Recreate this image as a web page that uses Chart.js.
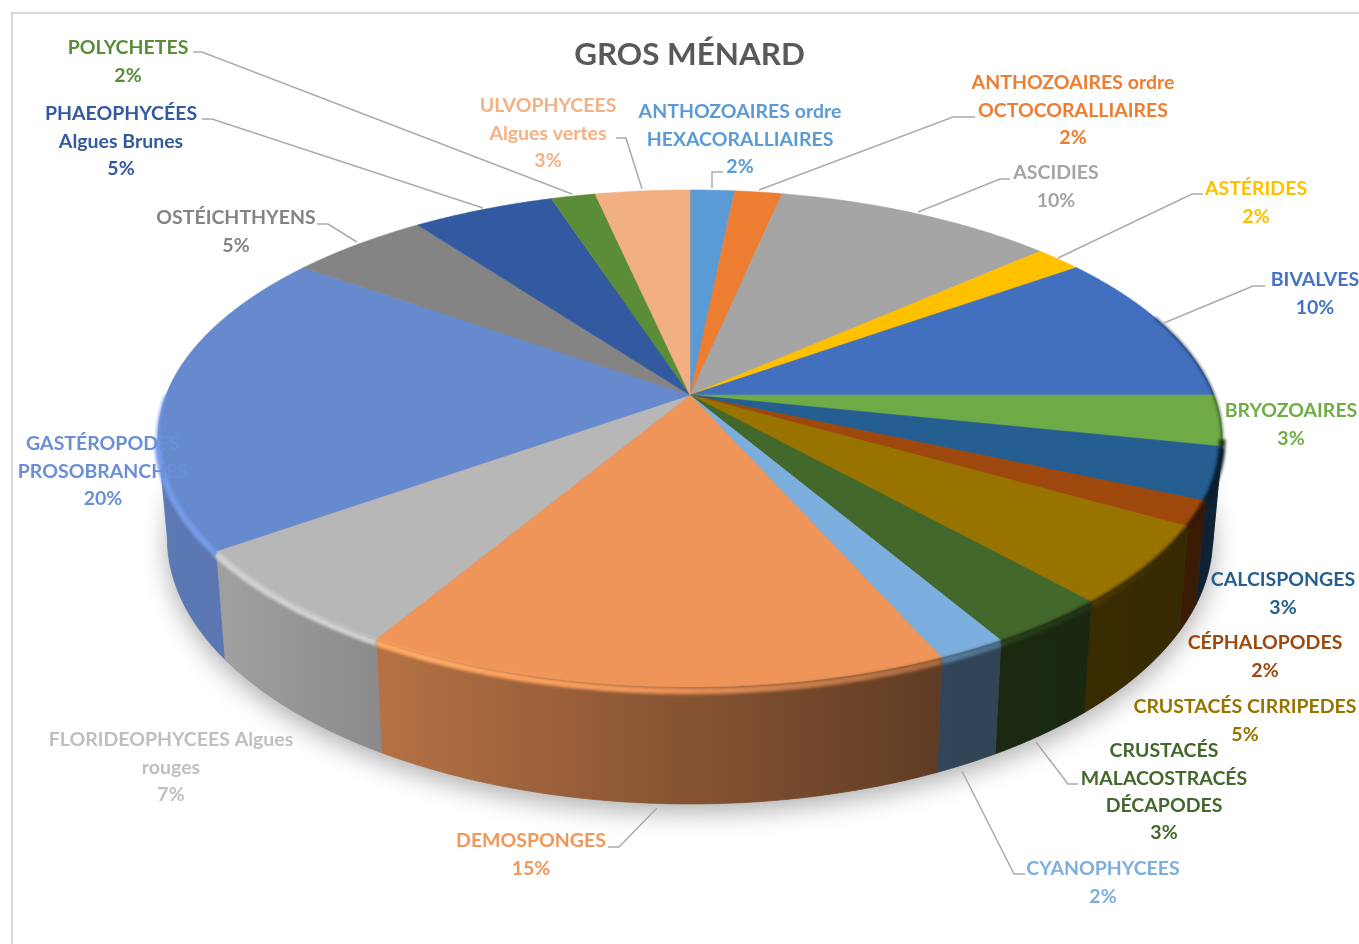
<!DOCTYPE html>
<html lang="fr">
<head>
<meta charset="utf-8">
<title>GROS MÉNARD</title>
<script src="https://cdn.jsdelivr.net/npm/chart.js@4"></script>
<style>
  html, body { margin: 0; padding: 0; background: #fff; overflow: hidden; }
  canvas { display: block; }
</style>
</head>
<body>
<canvas id="pie_chart" width="1359" height="944"></canvas>
<script>
const chartTitle = 'GROS MÉNARD';
const categories = [
  'ANTHOZOAIRES ordre\nHEXACORALLIAIRES', 'ANTHOZOAIRES ordre\nOCTOCORALLIAIRES', 'ASCIDIES', 'ASTÉRIDES',
  'BIVALVES', 'BRYOZOAIRES', 'CALCISPONGES', 'CÉPHALOPODES', 'CRUSTACÉS CIRRIPEDES',
  'CRUSTACÉS\nMALACOSTRACÉS\nDÉCAPODES', 'CYANOPHYCEES', 'DEMOSPONGES', 'FLORIDEOPHYCEES Algues\nrouges',
  'GASTÉROPODES\nPROSOBRANCHES', 'OSTÉICHTHYENS', 'PHAEOPHYCÉES\nAlgues Brunes', 'POLYCHETES', 'ULVOPHYCEES\nAlgues vertes',
];
const shares = [1.6, 1.7, 10.1, 1.7, 9.9, 3.3, 3.4, 1.6, 5.1, 3.2, 1.8, 15.1, 6.6, 19.8, 5.0, 5.1, 1.6, 3.4];
const colors = [
  '#5B9BD5', '#ED7D31', '#A5A5A5', '#FFC000', '#4270BE', '#6EAA45', '#255E91', '#9E480E', '#997300',
  '#43682B', '#7CAFDD', '#EF9559', '#B7B7B7', '#6789CD', '#848484', '#335AA1', '#5B8C38', '#F1AF82',
];
const textColors = [
  '#5B9BD5', '#ED7D31', '#A5A5A5', '#FFC000', '#4472C4', '#70AD47', '#255E91', '#9E480E', '#997300',
  '#43682B', '#7CAFDD', '#F1975A', '#BFBFBF', '#6A8FD4', '#848484', '#335AA1', '#5B8C38', '#F4B183',
];

// where each label sits: centre x, y of the first line
const labelSpots = [
  [740, 111], [1073, 82], [1056, 172], [1256, 188], [1315, 279], [1291, 410], [1283, 579], [1265, 642], [1245, 706],
  [1164, 750], [1103, 868], [531, 840], [171, 739], [103, 443], [236, 217], [121, 113], [128, 47], [548, 105],
];
// leader lines from label to slice, null where the label has none
const leaders = [
  [[723, 172], [712, 172], [712, 188]], [[975, 117], [953, 117], [759, 190]], [[1010, 179], [1000, 179], [918, 212]],
  [[1203, 194], [1192, 194], [1058, 258]], [[1265, 286], [1253, 286], [1164, 323]], null, null, null, null,
  [[1078, 784], [1068, 784], [1036, 742]], [[1025, 874], [1014, 874], [962, 771]], [[608, 847], [619, 847], [657, 808]],
  null, null, [[317, 224], [328, 224], [357, 242]], [[202, 119], [212, 119], [483, 208]],
  [[193, 52], [202, 52], [572, 194]], [[616, 138], [626, 138], [642, 189]],
];

// tilted disc: perspective projection of the angles Chart.js computes
const disc = {cx: 690, cy: 395, rx: 524, ry: 240.9, persp: 0.175, depth: 96.5, shrink: 0.982, bevel: 4};
const labelFont = 'bold 19.5px Lato';
const lineGap = 27.3;
const labelDrop = 1;

function topPoint(a) {
  const s = 1 / (1 - disc.persp * Math.sin(a));
  return [disc.cx + disc.rx * Math.cos(a) * s, disc.cy + disc.ry * Math.sin(a) * s];
}

function bottomPoint(a) {
  const p = topPoint(a);
  const s = 1 / (1 - disc.persp * Math.sin(a));
  return [disc.cx + (p[0] - disc.cx) * disc.shrink, p[1] + disc.depth * s];
}

function rimPoint(a) {
  const p = topPoint(a);
  return [p[0], p[1] + disc.bevel * Math.max(Math.sin(a), 0)];
}

function arcPoints(fn, a0, a1) {
  const steps = Math.max(2, Math.ceil(Math.abs(a1 - a0) / 0.006));
  const pts = [];
  for (let i = 0; i <= steps; i++) {
    pts.push(fn(a0 + (a1 - a0) * i / steps));
  }
  return pts;
}

function tracePath(ctx, pts) {
  pts.forEach((p, i) => (i == 0 ? ctx.moveTo(p[0], p[1]) : ctx.lineTo(p[0], p[1])));
}

function shade(hex, f) {
  const n = parseInt(hex.slice(1), 16);
  const c = [n >> 16, (n >> 8) & 255, n & 255].map((v) => Math.min(255, Math.round(v * f)));
  return `rgb(${c[0]},${c[1]},${c[2]})`;
}

function wallGradient(ctx, color) {
  const g = ctx.createLinearGradient(157, 0, 1221, 0);
  g.addColorStop(0, shade(color, 0.88));
  g.addColorStop(0.07, shade(color, 0.87));
  g.addColorStop(0.22, shade(color, 0.75));
  g.addColorStop(0.73, shade(color, 0.40));
  g.addColorStop(1, shade(color, 0.36));
  return g;
}

function rimGradient(ctx, color) {
  const g = ctx.createLinearGradient(157, 0, 1221, 0);
  g.addColorStop(0, shade(color, 1.14));
  g.addColorStop(0.25, shade(color, 1.14));
  g.addColorStop(0.45, shade(color, 1.02));
  g.addColorStop(0.73, shade(color, 0.72));
  g.addColorStop(1, shade(color, 0.3));
  return g;
}

function rimPass(ctx, arcs, from, to, width) {
  arcs.forEach((arc, i) => {
    const a0 = Math.max(arc.startAngle, from);
    const a1 = Math.min(arc.endAngle, to);
    if (a1 <= a0) return;
    ctx.beginPath();
    tracePath(ctx, arcPoints(rimPoint, a0, a1));
    ctx.strokeStyle = rimGradient(ctx, colors[i]);
    ctx.lineWidth = width;
    ctx.stroke();
  });
}

const pie3d = {
  id: 'pie3d',
  beforeDatasetsDraw(chart) {
    const ctx = chart.ctx;
    const arcs = chart.getDatasetMeta(0).data;
    // walls run between the two points where the rim is widest
    const wallFrom = Math.asin(disc.persp);
    const wallTo = Math.PI - wallFrom;

    // soft shadow under the disc
    ctx.save();
    ctx.shadowColor = 'rgba(0,0,0,0.32)';
    ctx.shadowBlur = 26;
    ctx.shadowOffsetY = 8;
    ctx.fillStyle = '#888';
    ctx.beginPath();
    tracePath(ctx, arcPoints(bottomPoint, -Math.PI / 2, Math.PI * 1.5));
    ctx.closePath();
    ctx.fill();
    ctx.restore();

    arcs.forEach((arc, i) => {
      const a0 = Math.max(arc.startAngle, wallFrom);
      const a1 = Math.min(arc.endAngle, wallTo);
      if (a1 <= a0) return;
      ctx.beginPath();
      tracePath(ctx, arcPoints(topPoint, a0, a1).concat(arcPoints(bottomPoint, a1, a0)));
      ctx.closePath();
      ctx.fillStyle = wallGradient(ctx, colors[i]);
      ctx.strokeStyle = ctx.fillStyle;
      ctx.lineWidth = 0.7;
      ctx.fill();
      ctx.stroke();
    });

    arcs.forEach((arc, i) => {
      ctx.beginPath();
      tracePath(ctx, [[disc.cx, disc.cy]].concat(arcPoints(topPoint, arc.startAngle, arc.endAngle)));
      ctx.closePath();
      ctx.fillStyle = colors[i];
      ctx.strokeStyle = colors[i];
      ctx.lineWidth = 0.6;
      ctx.fill();
      ctx.stroke();
    });

    // bevel along the rim, thin where the wall turns away
    ctx.save();
    ctx.filter = 'blur(1.8px)';
    rimPass(ctx, arcs, wallFrom, wallTo, 6.5);
    rimPass(ctx, arcs, -0.35, wallFrom, 1.6);
    rimPass(ctx, arcs, wallTo, Math.PI, 2.5);
    ctx.restore();
  },
  beforeDatasetDraw() {
    // the arcs are painted above in their tilted form
    return false;
  },
  afterDatasetsDraw(chart) {
    const ctx = chart.ctx;
    ctx.save();
    ctx.strokeStyle = '#D9D9D9';
    ctx.lineWidth = 2.2;
    ctx.strokeRect(12, 13, 1500, 1100);

    ctx.strokeStyle = '#ABABAB';
    ctx.lineWidth = 1.5;
    leaders.forEach((line) => {
      if (!line) return;
      ctx.beginPath();
      tracePath(ctx, line);
      ctx.stroke();
    });

    ctx.font = labelFont;
    ctx.textAlign = 'center';
    ctx.textBaseline = 'middle';
    categories.forEach((name, i) => {
      const lines = name.split('\n').concat(Math.round(shares[i]) + '%');
      ctx.fillStyle = textColors[i];
      lines.forEach((t, k) => ctx.fillText(t, labelSpots[i][0], labelSpots[i][1] + labelDrop + k * lineGap));
    });
    ctx.restore();
  },
};

new Chart(document.getElementById('pie_chart').getContext('2d'), {
  type: 'pie',
  data: {
    labels: categories,
    datasets: [{data: shares, backgroundColor: colors, borderWidth: 0}],
  },
  options: {
    responsive: false,
    animation: false,
    layout: {padding: {left: 20}},
    plugins: {
      legend: {display: false},
      tooltip: {enabled: false},
      title: {
        display: true,
        text: chartTitle,
        color: '#595959',
        font: {family: 'Lato', size: 31.4, weight: 'bold'},
        padding: {top: 36, bottom: 10},
      },
    },
  },
  plugins: [pie3d],
});
</script>
</body>
</html>
